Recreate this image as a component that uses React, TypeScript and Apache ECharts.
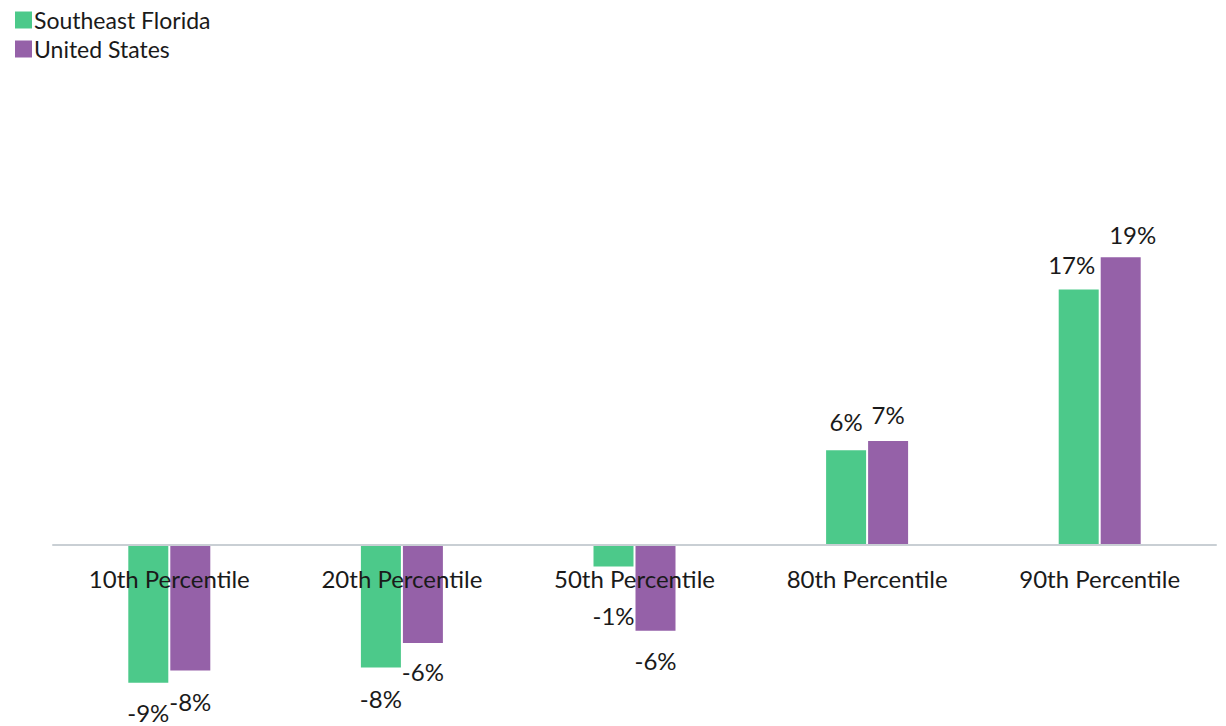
import React, { useEffect, useRef } from "react";
import * as echarts from "echarts";

const categories = ["10th Percentile", "20th Percentile", "50th Percentile", "80th Percentile", "90th Percentile"];
const seriesNames = ["Southeast Florida", "United States"];
const southeastFlorida = [-9.0, -8.0, -1.4, 6.2, 16.7];
const unitedStates = [-8.2, -6.4, -5.6, 6.8, 18.8];
const colors = ["#4cc98a", "#9561a8"];

// label placement tweaks (distance from bar end, horizontal offset)
const sfLabelDist = [20, 21, 39, 19, 15];
const sfLabelDx = [0, 0, 0, 0, -7];
const usLabelDist = [21, 19, 20, 16, 13];
const usLabelDx = [0, 0, 0, 0, 12];

const FONT = "Lato, 'Open Sans', sans-serif";

function buildData(values: number[], dist: number[], dx: number[]) {
  return values.map((v, i) => ({
    value: v,
    label: {
      position: v >= 0 ? "top" : "bottom",
      distance: dist[i],
      offset: [dx[i], 0],
      lineHeight: 20,
    },
  }));
}

export default function App() {
  const ref = useRef<HTMLDivElement>(null);
  useEffect(() => {
    if (!ref.current) return;
    const chart = echarts.init(ref.current, null, { renderer: "svg" });
    const labelCommon = {
      show: true,
      fontSize: 24,
      fontFamily: FONT,
      color: "#1a1a1a",
      formatter: (p: any) => Math.round(p.value) + "%",
    };
    chart.setOption({
      animation: false,
      backgroundColor: "#ffffff",
      legend: {
        orient: "vertical",
        left: 10,
        top: 3,
        itemWidth: 17,
        itemHeight: 17,
        itemGap: 5,
        icon: "rect",
        data: seriesNames,
        textStyle: { fontSize: 23, lineHeight: 24, fontFamily: FONT, color: "#1a1a1a", padding: [0, 0, 0, -3] },
      },
      grid: { left: 53, right: 10, top: 239, bottom: 181, containLabel: false, outerBoundsMode: "none" },
      xAxis: {
        type: "category",
        data: categories,
        z: 5,
        axisLine: { show: true, onZero: false, lineStyle: { color: "#c9cfd4", width: 2 } },
        axisTick: { show: false },
        axisLabel: { fontSize: 24, fontFamily: FONT, color: "#1a1a1a", margin: 21, interval: 0 },
        splitLine: { show: false },
      },
      yAxis: {
        type: "value",
        min: 0,
        max: 20,
        show: false,
        splitLine: { show: false },
      },
      series: [
        {
          name: seriesNames[0],
          type: "bar",
          barWidth: 40,
          barGap: "5%",
          clip: false,
          itemStyle: { color: colors[0] },
          label: labelCommon,
          data: buildData(southeastFlorida, sfLabelDist, sfLabelDx),
        },
        {
          name: seriesNames[1],
          type: "bar",
          barWidth: 40,
          barGap: "5%",
          clip: false,
          itemStyle: { color: colors[1] },
          label: labelCommon,
          data: buildData(unitedStates, usLabelDist, usLabelDx),
        },
      ],
    });
    return () => chart.dispose();
  }, []);
  return (
    <div
      ref={ref}
      style={{ position: "absolute", left: 0, top: 0, width: 1226, height: 726 }}
    />
  );
}
